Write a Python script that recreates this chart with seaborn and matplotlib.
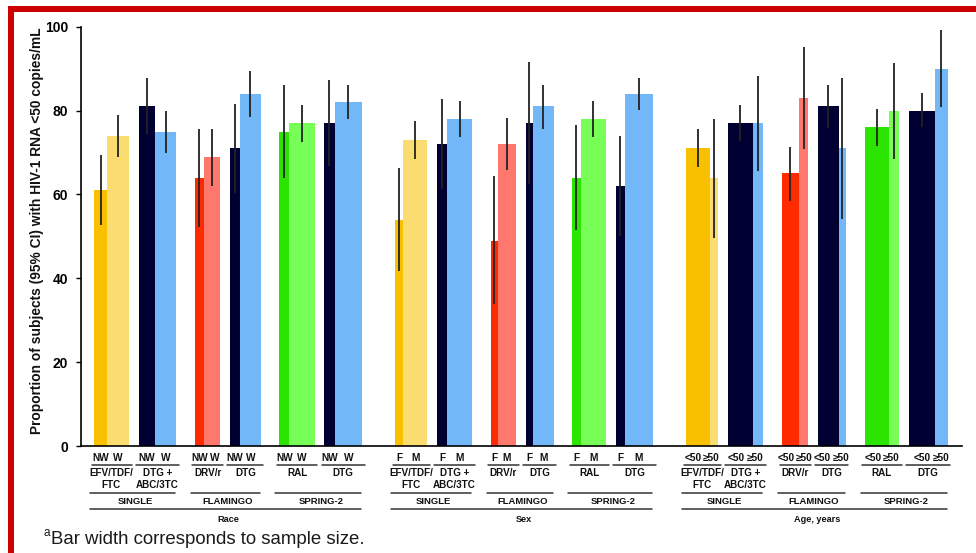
import numpy as np
import pandas as pd
import matplotlib.pyplot as plt
import matplotlib.transforms as mtransforms
from matplotlib import font_manager
from matplotlib.patches import Rectangle
import seaborn as sns

W, H = 976, 553

# subgroup pairs: (dark, light) bar per arm, 6 arms per panel
groups = ['Race', 'Sex', 'Age, years']
cat_labels = [('NW', 'W'), ('F', 'M'), ('<50', '\u226550')]
studies = ['SINGLE', 'FLAMINGO', 'SPRING-2']
arms = ['EFV/TDF/\nFTC', 'DTG +\nABC/3TC', 'DRV/r', 'DTG', 'RAL', 'DTG']
arm_colors = [('#F9C000', '#FBDC70'), ('#000033', '#72B8F8'),
              ('#FF2B00', '#FF786E'), ('#000033', '#72B8F8'),
              ('#2BE500', '#77FF58'), ('#000033', '#72B8F8')]

race_vals = [61, 74, 81, 75, 64, 69, 71, 84, 75, 77, 77, 82]
race_lo = [52.8, 68.9, 74.3, 69.9, 52.3, 62.1, 60.4, 78.5, 64.0, 72.6, 66.8, 77.9]
race_hi = [69.3, 78.9, 87.7, 80.0, 75.5, 75.7, 81.6, 89.4, 86.0, 81.3, 87.2, 86.0]
race_n = [13, 22, 16.6, 21, 9, 16.7, 10, 20.7, 9.7, 25.7, 10.4, 27.3]

sex_vals = [54, 73, 72, 78, 49, 72, 77, 81, 64, 78, 62, 84]
sex_lo = [41.7, 68.4, 61.2, 73.7, 33.8, 65.9, 62.4, 75.6, 51.4, 73.7, 50.1, 80.2]
sex_hi = [66.3, 77.6, 82.7, 82.3, 64.3, 78.2, 91.7, 86.2, 76.5, 82.2, 73.9, 87.8]
sex_n = [8, 24.3, 10.3, 25, 7, 18.3, 7, 21, 8.3, 25.7, 9, 28.3]

age_vals = [71, 64, 77, 77, 65, 83, 81, 71, 76, 80, 80, 90]
age_lo = [66.5, 49.7, 72.8, 65.7, 58.5, 70.8, 75.9, 54.2, 71.6, 68.5, 76.0, 80.8]
age_hi = [75.6, 78.1, 81.3, 88.3, 71.4, 95.2, 86.2, 87.7, 80.4, 91.4, 84.1, 99.2]
age_n = [24, 8, 25, 10.7, 16.7, 9.7, 21, 7, 24, 10.7, 26.3, 12.4]

vals = [race_vals, sex_vals, age_vals]
los = [race_lo, sex_lo, age_lo]
his = [race_hi, sex_hi, age_hi]
sizes = [race_n, sex_n, age_n]

# build bar table, widths taken from the (relative) sample sizes
rows = []
x = 94.0
for g in range(3):
    if g:
        x += 33
    for s in range(3):
        if s:
            x += 18.7
        for a in range(2):
            if a:
                x += 9.5
            arm = 2 * s + a
            for k in range(2):
                i = 2 * arm + k
                w = sizes[g][i]
                rows.append(dict(group=g, study=s, arm=arm, k=k, left=x, right=x + w,
                                 center=x + w / 2, value=vals[g][i], lo=los[g][i],
                                 hi=his[g][i], color=arm_colors[arm][k]))
                x += w
df = pd.DataFrame(rows)
edges = list(np.unique(np.concatenate([df.left.values, df.right.values])))

sns.set_style('ticks')
names = {f.name for f in font_manager.fontManager.ttflist}
if 'Liberation Sans Narrow' in names:
    plt.rcParams['font.family'] = ['Liberation Sans Narrow', 'DejaVu Sans']
    fs = dict(tick=11, cat=8.7, arm=8.6, study=8.1, group=7.9)
else:
    plt.rcParams['font.family'] = ['Liberation Sans', 'DejaVu Sans']
    fs = dict(tick=10, cat=7.3, arm=7.1, study=6.8, group=6.6)

fig = plt.figure(figsize=(W / 100, H / 100), dpi=100)
ax = fig.add_axes([81 / W, 1 - 446 / H, (962 - 81) / W, (446 - 26.7) / H])

palette = {c: c for c in df.color.unique()}
sns.histplot(data=df, x='center', weights='value', bins=edges, hue='color',
             palette=palette, multiple='layer', element='bars', fill=True,
             alpha=1, linewidth=0, legend=False, ax=ax)
ax.vlines(df.center, df.lo, df.hi, color='#222222', lw=1.3, zorder=3)

ax.set_xlim(81, 962)
ax.set_ylim(0, 100)
ax.set_xticks([])
ax.set_yticks(range(0, 101, 20))
ax.tick_params(axis='y', direction='out', length=3.6, width=1, pad=5.5,
               labelsize=fs['tick'], colors='black')
for t in ax.get_yticklabels():
    t.set_fontweight('bold')
ax.set_xlabel('')
ax.set_ylabel('')
sns.despine(ax=ax)
for sp in ['left', 'bottom']:
    ax.spines[sp].set_linewidth(1.2)
    ax.spines[sp].set_color('black')

trans = mtransforms.blended_transform_factory(ax.transData, fig.transFigure)


def fy(py):
    return 1 - py / H


def hline(x0, x1, py):
    ax.plot([x0, x1], [fy(py), fy(py)], transform=trans, color='#333333',
            lw=1.1, clip_on=False)


def label(xc, py, s, size):
    ax.text(xc, fy(py), s, transform=trans, ha='center', va='center',
            fontsize=size, fontweight='bold', color='#111111')


min_sep = [15, 11, 18.5]
for g in range(3):
    gd = df[df.group == g]
    for arm in range(6):
        pd_ = gd[gd.arm == arm]
        l, r = pd_.left.min(), pd_.right.max()
        mid = (l + r) / 2
        c0, c1 = pd_.center.values
        if c1 - c0 < min_sep[g]:
            c0, c1 = mid - min_sep[g] / 2, mid + min_sep[g] / 2
        label(c0, 458.3, cat_labels[g][0], fs['cat'])
        label(c1, 458.3, cat_labels[g][1], fs['cat'])
        hline(mid - (r - l + 5) / 2, mid + (r - l + 5) / 2, 465)
        for j, line in enumerate(arms[arm].split('\n')):
            label(mid, 473.5 + 12 * j, line, fs['arm'])
    for s in range(3):
        sd = gd[gd.study == s]
        l, r = sd.left.min(), sd.right.max()
        hline(l - 4, r - 1, 492.7)
        label((l + r) / 2, 501, studies[s], fs['study'])
    hline(gd.left.min() - 4, gd.right.max() - 1, 509)
    label((gd.left.min() + gd.right.max()) / 2, 519.5, groups[g], fs['group'])

fig.text(37.5 / W, fy(230.5), 'Proportion of subjects (95% CI) with HIV-1 RNA <50 copies/mL',
         rotation=90, ha='center', va='center', fontsize=9.9, fontweight='bold',
         family=['Liberation Sans', 'DejaVu Sans'], color='#111111')

fig.text(43 / W, fy(536.5), 'a', fontsize=8.5, va='baseline', ha='left',
         family=['Liberation Sans', 'DejaVu Sans'], color='#1a1a1a')
fig.text(50.7 / W, fy(544), 'Bar width corresponds to sample size.', fontsize=13.4,
         va='baseline', ha='left', family=['Liberation Sans', 'DejaVu Sans'], color='#1a1a1a')

# red frame (top and left edges)
fig.add_artist(Rectangle((8 / W, fy(12)), 1, 6 / H, transform=fig.transFigure,
                         color='#CC0000', lw=0))
fig.add_artist(Rectangle((8 / W, 0), 6 / W, fy(6), transform=fig.transFigure,
                         color='#CC0000', lw=0))

fig.savefig('out.png', dpi=100)
